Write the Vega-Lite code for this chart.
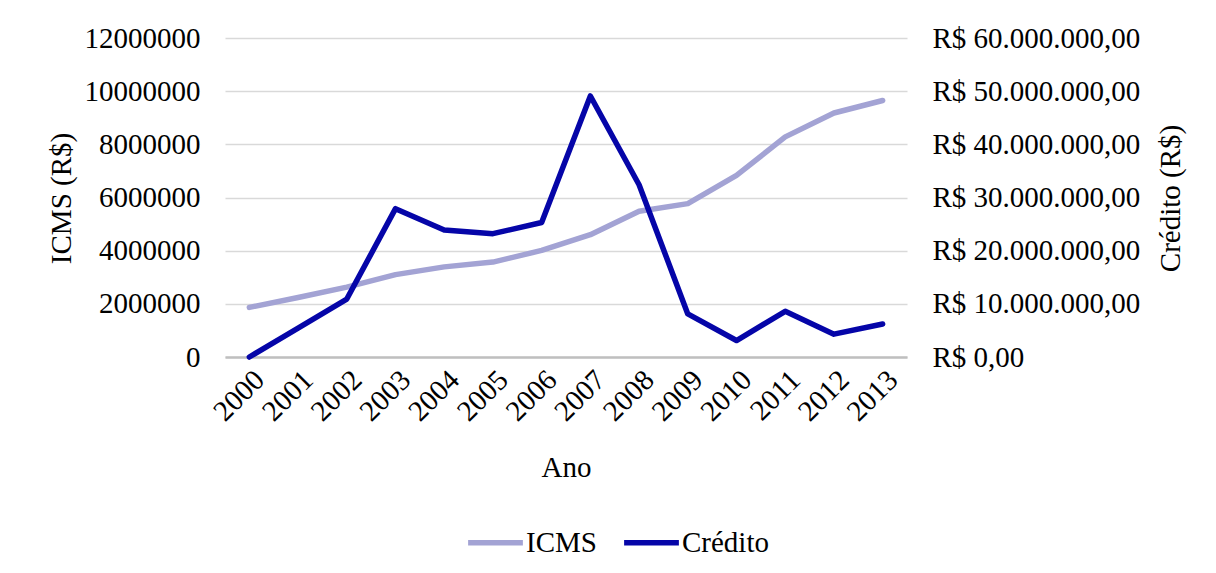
{
  "$schema": "https://vega.github.io/schema/vega-lite/v6.json",
  "autosize": "none",
  "width": 682,
  "height": 319,
  "padding": {"left": 225, "top": 38, "right": 309, "bottom": 216},
  "background": "white",
  "config": {
    "font": "Liberation Serif",
    "view": {"stroke": null},
    "locale": {"number": {"decimal": ",", "thousands": ".", "grouping": [3], "currency": ["R$ ", ""]}}
  },
  "data": {
    "values": [
      {"Ano": "2000", "ICMS": 1866000, "Credito": 0},
      {"Ano": "2001", "ICMS": 2240000, "Credito": 5450000},
      {"Ano": "2002", "ICMS": 2630000, "Credito": 10900000},
      {"Ano": "2003", "ICMS": 3100000, "Credito": 27900000},
      {"Ano": "2004", "ICMS": 3390000, "Credito": 23900000},
      {"Ano": "2005", "ICMS": 3570000, "Credito": 23200000},
      {"Ano": "2006", "ICMS": 4010000, "Credito": 25300000},
      {"Ano": "2007", "ICMS": 4600000, "Credito": 49100000},
      {"Ano": "2008", "ICMS": 5480000, "Credito": 32400000},
      {"Ano": "2009", "ICMS": 5770000, "Credito": 8100000},
      {"Ano": "2010", "ICMS": 6830000, "Credito": 3100000},
      {"Ano": "2011", "ICMS": 8280000, "Credito": 8600000},
      {"Ano": "2012", "ICMS": 9180000, "Credito": 4300000},
      {"Ano": "2013", "ICMS": 9650000, "Credito": 6200000}
    ]
  },
  "encoding": {
    "x": {
      "field": "Ano",
      "type": "ordinal",
      "scale": {"type": "point", "padding": 0.5},
      "axis": {
        "title": "Ano",
        "labelAngle": -45,
        "labelFontSize": 29,
        "labelColor": "black",
        "titleFontSize": 29,
        "titleFontWeight": "normal",
        "titleColor": "black",
        "ticks": false,
        "domainColor": "#BFBFBF",
        "domainWidth": 2.5,
        "labelPadding": 8,
        "titleBaseline": "middle",
        "titleY": 110
      }
    }
  },
  "layer": [
    {
      "mark": {"type": "line", "strokeWidth": 5.5, "strokeCap": "round", "strokeJoin": "round"},
      "encoding": {
        "y": {
          "field": "ICMS",
          "type": "quantitative",
          "scale": {"domain": [0, 12000000]},
          "axis": {
            "title": "ICMS (R$)",
            "values": [0, 2000000, 4000000, 6000000, 8000000, 10000000, 12000000],
            "format": "d",
            "grid": true,
            "gridColor": "#D9D9D9",
            "gridWidth": 1.5,
            "domain": false,
            "ticks": false,
            "labelPadding": 25,
            "labelFontSize": 29,
            "labelColor": "black",
            "labelLimit": 0,
            "titleFontSize": 29,
            "titleFontWeight": "normal",
            "titleColor": "black",
            "titleBaseline": "middle",
            "titleX": -164,
            "titleY": 160
          }
        },
        "color": {
          "datum": "ICMS",
          "scale": {"domain": ["ICMS", "Crédito"], "range": ["#A3A3D4", "#0505A8"]},
          "legend": {
            "title": null,
            "orient": "none",
            "legendX": 240,
            "legendY": 474,
            "direction": "horizontal",
            "symbolType": "stroke",
            "symbolStrokeWidth": 5.5,
            "symbolSize": 3000,
            "labelFontSize": 29,
            "labelColor": "black",
            "labelOffset": 0,
            "columnPadding": 16
          }
        }
      }
    },
    {
      "mark": {"type": "line", "strokeWidth": 5.5, "strokeCap": "round", "strokeJoin": "round"},
      "encoding": {
        "y": {
          "field": "Credito",
          "type": "quantitative",
          "scale": {"domain": [0, 60000000]},
          "axis": {
            "orient": "right",
            "title": "Crédito (R$)",
            "values": [0, 10000000, 20000000, 30000000, 40000000, 50000000, 60000000],
            "format": "$,.2f",
            "grid": false,
            "domain": false,
            "ticks": false,
            "labelPadding": 25,
            "labelFontSize": 29,
            "labelColor": "black",
            "labelLimit": 0,
            "titleFontSize": 29,
            "titleFontWeight": "normal",
            "titleColor": "black",
            "titleAngle": -90,
            "titleBaseline": "middle",
            "titleX": 263,
            "titleY": 160
          }
        },
        "color": {"datum": "Crédito"}
      }
    }
  ],
  "resolve": {"scale": {"y": "independent"}}
}
